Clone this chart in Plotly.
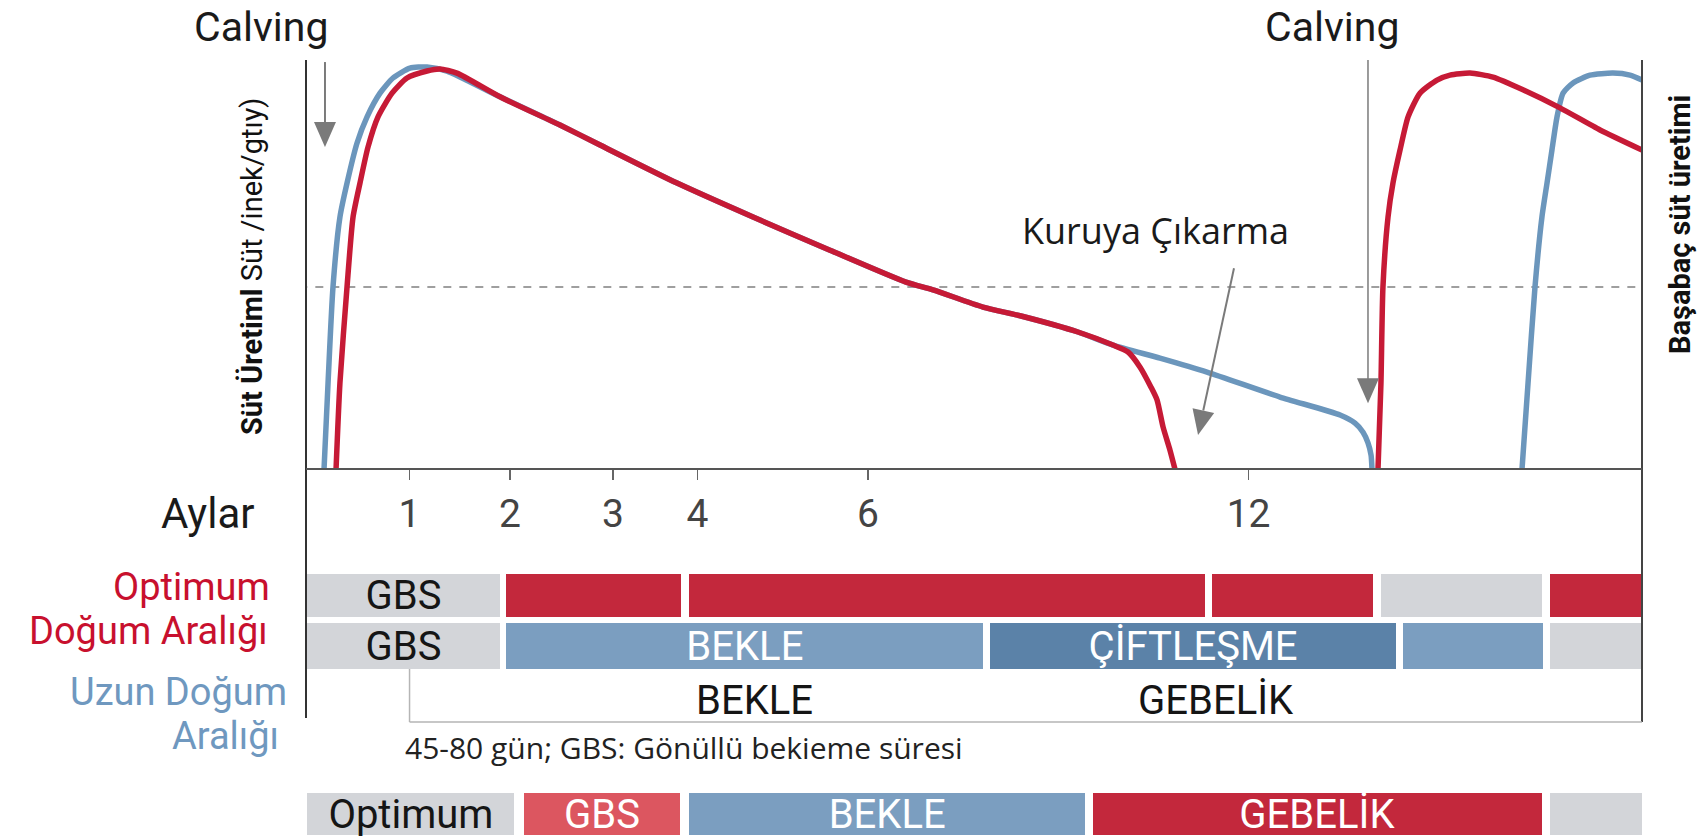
import plotly.graph_objects as go

# ---------------- data ----------------
# x: position along the lactation timeline (0-100 across the chart), y: relative milk yield (0-100)
tick_pos = [7.75, 15.27, 22.98, 29.30, 42.07, 70.55]
tick_labels = ["1", "2", "3", "4", "6", "12"]

red1_x = [2.25, 2.54, 3.07, 3.52, 4.04, 4.64, 5.39, 6.44, 7.56, 9.06, 10.03, 11.30,
          14.52, 19.01, 22.01, 27.77, 33.46, 39.22, 44.91, 46.93, 50.67, 53.52, 57.78, 60.40,
          61.53, 62.43, 63.25, 63.70, 64.15, 64.67, 65.04]
red1_y = [0, 21.0, 44.5, 61.6, 69.9, 78.7, 86.1, 91.9, 95.6, 97.3, 97.8, 96.8,
          91.0, 84.1, 79.2, 69.9, 61.6, 53.5, 45.7, 43.8, 39.6, 37.4, 33.5, 30.3,
          28.6, 24.9, 20.0, 16.9, 10.3, 4.6, 0]
blue1_x = [1.35, 1.65, 2.02, 2.54, 3.07, 3.82, 4.57, 5.54, 6.51, 7.78, 9.06, 10.55,
           14.52, 19.01, 22.01, 27.77, 33.46, 39.22, 44.91, 46.93, 50.67, 53.52, 57.78, 60.40,
           63.92, 67.44, 72.90, 77.40, 78.52, 79.12, 79.49, 79.72, 79.79]
blue1_y = [0, 21.0, 44.5, 61.6, 69.9, 79.7, 86.1, 91.9, 95.6, 98.0, 98.3, 97.3,
           91.0, 84.1, 79.2, 69.9, 61.6, 53.5, 45.7, 43.8, 39.6, 37.4, 33.5, 30.3,
           27.1, 23.7, 17.6, 13.2, 11.2, 9.0, 6.4, 3.4, 0]
red2_x = [80.24, 80.46, 80.61, 80.99, 81.36, 81.89, 82.49, 83.38, 84.66, 85.63, 87.13,
          88.85, 91.09, 93.86, 96.86, 100]
red2_y = [0, 21.0, 44.5, 61.6, 69.9, 78.0, 86.1, 91.9, 95.1, 96.3, 96.8,
          95.8, 92.7, 88.3, 82.9, 78.0]
blue2_x = [91.02, 91.47, 91.99, 92.51, 92.89, 93.26, 93.64, 94.09, 94.84, 96.11, 97.83, 99.10, 100]
blue2_y = [0, 21.0, 44.5, 61.6, 69.9, 78.0, 86.1, 91.9, 94.4, 96.3, 96.8, 96.3, 95.1]
dry_level = 44.5

# timeline bars (start, end, colour key, label)
row1_start = [0.1, 15.0, 28.7, 67.8, 80.5, 93.1]
row1_end = [14.5, 28.1, 67.3, 79.9, 92.5, 100]
row1_kind = ["gray", "red", "red", "red", "gray", "red"]
row1_text = ["GBS", "", "", "", "", ""]

row2_start = [0.1, 15.0, 51.2, 82.1, 93.1]
row2_end = [14.5, 50.7, 81.6, 92.6, 100]
row2_kind = ["gray", "lblue", "dblue", "lblue", "gray"]
row2_text = ["GBS", "BEKLE", "ÇİFTLEŞME", "", ""]

row3_pos = [33.6, 68.1]
row3_text = ["BEKLE", "GEBELİK"]

legend_start = [0.1, 16.3, 28.7, 58.9, 93.1]
legend_end = [15.6, 28.0, 58.3, 92.5, 100]
legend_kind = ["gray", "pink", "lblue", "red", "gray"]
legend_text = ["Optimum", "GBS", "BEKLE", "GEBELİK", ""]

# ---------------- style ----------------
W, H = 1707, 838
L, R = 306, 1642
TOP, BASE = 60, 469
COL = {"gray": "#D3D5D9", "red": "#C3283C", "lblue": "#7B9EC0",
       "dblue": "#5B82A8", "pink": "#DC5660"}
TXT = {"gray": "#151515", "red": "white", "lblue": "white", "dblue": "white", "pink": "white"}
CURVE_RED = "#C61A36"
CURVE_BLUE = "#6B96BC"
ARROW = "#7A7A7A"
FONT = "Roboto, Arial, sans-serif"
FONT2 = "Open Sans, Roboto, sans-serif"


def px(py):
    return (H - py) / H


fig = go.Figure()

# curves
for xs, ys, c in [(blue1_x, blue1_y, CURVE_BLUE), (blue2_x, blue2_y, CURVE_BLUE),
                  (red1_x, red1_y, CURVE_RED), (red2_x, red2_y, CURVE_RED)]:
    fig.add_trace(go.Scatter(x=xs, y=ys, mode="lines",
                             line=dict(color=c, width=5.5, shape="spline", smoothing=0.6),
                             hoverinfo="skip", showlegend=False, cliponaxis=False))

# bars
ROWS = [(row1_start, row1_end, row1_kind, row1_text, 126.5, 43),
        (row2_start, row2_end, row2_kind, row2_text, 177.0, 46),
        (legend_start, legend_end, legend_kind, legend_text, 345.0, 42)]
for st, en, kind, txt, yc, h in ROWS:
    fig.add_trace(go.Bar(
        orientation="h", base=st, x=[e - s for s, e in zip(st, en)],
        y=[yc] * len(st), width=[h] * len(st),
        marker=dict(color=[COL[k] for k in kind], line=dict(width=0)),
        text=txt, textposition="inside", insidetextanchor="middle",
        textangle=0, constraintext="none",
        textfont=dict(family=FONT, size=40, color=[TXT[k] for k in kind]),
        xaxis="x", yaxis="y2", hoverinfo="skip", showlegend=False))

# row 3 plain text
for xp, t in zip(row3_pos, row3_text):
    fig.add_annotation(x=xp, y=231, xref="x", yref="y2", text=t, showarrow=False,
                       font=dict(family=FONT, size=40, color="#151515"))

shapes = []
# frame lines
shapes.append(dict(type="line", xref="paper", yref="paper", x0=0, x1=0, y0=px(TOP), y1=px(718),
                   line=dict(color="#333", width=2)))
shapes.append(dict(type="line", xref="paper", yref="paper", x0=1, x1=1, y0=px(TOP), y1=px(722),
                   line=dict(color="#444", width=2)))
shapes.append(dict(type="line", xref="paper", yref="paper", x0=0, x1=1, y0=px(BASE), y1=px(BASE),
                   line=dict(color="#555", width=2)))
# bracket under the timeline rows
shapes.append(dict(type="line", xref="x", yref="paper", x0=tick_pos[0], x1=tick_pos[0],
                   y0=px(669), y1=px(722), line=dict(color="#B5B5B5", width=1.5)))
shapes.append(dict(type="line", xref="x", yref="paper", x0=tick_pos[0], x1=100,
                   y0=px(722), y1=px(722), line=dict(color="#B5B5B5", width=1.5)))
# dashed reference
shapes.append(dict(type="line", xref="x", yref="y", x0=-0.5, x1=100, y0=dry_level, y1=dry_level,
                   line=dict(color="#808080", width=1.6, dash="8px,8px"), layer="below"))

# arrows: shaft + head (head drawn in pixel size around the tip)
def arrow(x0, y0, x1, y1, tip_x, tip_y, path, width=2):
    shapes.append(dict(type="line", xref="x", yref="y", x0=x0, y0=y0, x1=x1, y1=y1,
                       line=dict(color=ARROW, width=width)))
    shapes.append(dict(type="path", xref="x", yref="y", xsizemode="pixel", ysizemode="pixel",
                       xanchor=tip_x, yanchor=tip_y, path=path,
                       fillcolor=ARROW, line=dict(width=0)))

down = "M -11,25 L 11,25 L 0,0 Z"
arrow(1.42, 99.5, 1.42, 84.4, 1.42, 78.7, down, 2)
arrow(79.49, 100, 79.49, 21.8, 79.49, 16.1, down, 1.5)
arrow(69.46, 49.1, 67.16, 14.3, 66.77, 8.3, "M 16.1,22.1 L -5.5,26.7 L 0,0 Z", 2)

fig.update_layout(shapes=shapes)

ann = [
    dict(text="Calving", x=(261 - L) / (R - L), y=px(27), size=41, fam=FONT, color="#1a1a1a", xa="center"),
    dict(text="Calving", x=(1332 - L) / (R - L), y=px(27), size=41, fam=FONT, color="#1a1a1a", xa="center"),
    dict(text="Kuruya Çıkarma", x=(1155 - L) / (R - L), y=px(230), size=36, fam=FONT2, color="#1a1a1a", xa="center"),
    dict(text="Aylar", x=(257 - L) / (R - L), y=px(513), size=42, fam=FONT, color="#1a1a1a", xa="right"),
    dict(text="Optimum", x=(272 - L) / (R - L), y=px(587), size=38, fam=FONT, color="#C8102E", xa="right"),
    dict(text="Doğum Aralığı", x=(270 - L) / (R - L), y=px(631), size=38, fam=FONT, color="#C8102E", xa="right"),
    dict(text="Uzun Doğum", x=(289 - L) / (R - L), y=px(692), size=38, fam=FONT, color="#6F98BF", xa="right"),
    dict(text="Aralığı", x=(281 - L) / (R - L), y=px(736), size=38, fam=FONT, color="#6F98BF", xa="right"),
    dict(text="45-80 gün; GBS: Gönüllü bekieme süresi", x=(403 - L) / (R - L), y=px(747), size=30,
         fam=FONT2, color="#222", xa="left"),
]
for a in ann:
    fig.add_annotation(text=a["text"], x=a["x"], y=a["y"], xref="paper", yref="paper",
                       xanchor=a["xa"], yanchor="middle", showarrow=False,
                       font=dict(family=a["fam"], size=a["size"], color=a["color"]))

fig.add_annotation(text="<b>Süt Üretiml</b> Süt /inek/gtıy)", x=(252 - L) / (R - L), y=px(267),
                   xref="paper", yref="paper", textangle=-90, showarrow=False,
                   xanchor="center", yanchor="middle",
                   font=dict(family=FONT, size=29, color="#111"))
fig.add_annotation(text="<b>Başabaç süt üretimi</b>", x=(1680 - L) / (R - L), y=px(225),
                   xref="paper", yref="paper", textangle=-90, showarrow=False,
                   xanchor="center", yanchor="middle",
                   font=dict(family=FONT, size=29, color="#111"))

fig.update_layout(
    width=W, height=H, autosize=False,
    margin=dict(l=L, r=W - R, t=0, b=0),
    paper_bgcolor="white", plot_bgcolor="rgba(0,0,0,0)",
    barmode="overlay", bargap=0, hovermode=False,
    xaxis=dict(domain=[0, 1], range=[0, 100], anchor="y",
               tickmode="array", tickvals=tick_pos, ticktext=tick_labels,
               ticks="outside", ticklen=10, tickwidth=1.5, tickcolor="#666",
               ticklabelstandoff=0,
               tickfont=dict(family=FONT, size=39, color="#444"),
               showgrid=False, zeroline=False, showline=False, fixedrange=True),
    yaxis=dict(domain=[px(BASE), px(TOP)], range=[0, 100], visible=False, fixedrange=True),
    yaxis2=dict(domain=[0, px(BASE)], range=[H - BASE, 0], visible=False, fixedrange=True,
                anchor="x"),
)

fig.write_html("out.html", config={"displayModeBar": False, "staticPlot": True},
               post_script="document.body.style.margin='0';")
